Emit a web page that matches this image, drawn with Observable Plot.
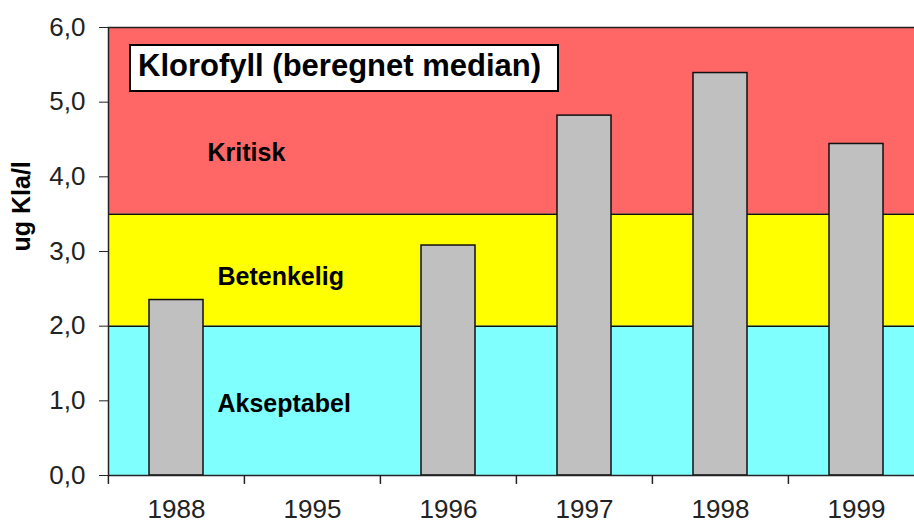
<!DOCTYPE html>
<html><head><meta charset="utf-8">
<script src="https://cdn.jsdelivr.net/npm/d3@7"></script>
<script src="https://cdn.jsdelivr.net/npm/@observablehq/plot@0.6"></script>
<style>
html,body{margin:0;padding:0;background:#fff;overflow:hidden;}
#wrap{position:relative;width:914px;height:523px;overflow:hidden;}
#title{position:absolute;left:129px;top:44px;width:430px;height:48px;box-sizing:border-box;border:2px solid #000;background:#fff;
 font:bold 31px "Liberation Sans",Arial,sans-serif;line-height:40px;padding-left:7px;color:#000;white-space:nowrap;}
</style>
</head><body>
<div id="wrap"><div id="chart"></div><div id="title"></div></div>
<script>
const years = ["1988", "1995", "1996", "1997", "1998", "1999"];
const values = [2.35, null, 3.08, 4.82, 5.39, 4.44];
const zoneLow = [0, 2, 3.5];
const zoneHigh = [2, 3.5, 6];
const zoneColors = ["#80FFFF", "#FFFF00", "#FF6666"];
const zoneLabels = ["Akseptabel", "Betenkelig", "Kritisk"];
const zoneLabelY = [0.96, 2.66, 4.32];
const yTicks = [0, 1, 2, 3, 4, 5, 6];
const yLabel = "ug Kla/l";
const titleText = "Klorofyll (beregnet median)";

document.getElementById("title").textContent = titleText;

const bars = years.map((y, i) => ({year: y, value: values[i]})).filter(d => d.value != null);
const zones = zoneLow.map((lo, i) => ({lo, hi: zoneHigh[i], color: zoneColors[i], label: zoneLabels[i], labelY: zoneLabelY[i]}));
const fmt = d => d.toFixed(1).replace(".", ",");
const sans = "'Liberation Sans',Arial,sans-serif";

const chart = Plot.plot({
  width: 914, height: 523,
  marginLeft: 108, marginRight: -11, marginTop: 27, marginBottom: 48,
  style: {fontFamily: sans, fontSize: "26px", color: "#222", background: "transparent", overflow: "hidden"},
  x: {domain: years, paddingInner: 0.6, paddingOuter: 0.3, label: null, tickSize: 0, tickPadding: 24},
  y: {domain: [0, 6], ticks: yTicks, tickFormat: fmt, label: null, tickSize: 9, tickPadding: 14},
  color: {type: "identity"},
  marks: [
    Plot.rect(zones, {y1: "lo", y2: "hi", fill: "color"}),
    Plot.ruleY(zoneLow.slice(1), {stroke: "#111", strokeWidth: 1.5}),
    Plot.barY(bars, {x: "year", y: "value", fill: "#C0C0C0", stroke: "#111", strokeWidth: 1.5}),
    Plot.frame({stroke: "#222", strokeWidth: 1.5}),
    Plot.ruleX(years, {x: d => d, dx: -68.1, y1: 0, y2: -0.12, stroke: "#222", strokeWidth: 1.5}),
    Plot.text(zones.filter(d => d.label !== "Kritisk"), {text: "label", y: "labelY", frameAnchor: "left", textAnchor: "start", dx: 109,
      fontWeight: "bold", fontSize: 25, fontFamily: sans, fill: "#000"}),
    Plot.text(zones.filter(d => d.label === "Kritisk"), {text: "label", y: "labelY", frameAnchor: "left", textAnchor: "start", dx: 99,
      fontWeight: "bold", fontSize: 25, fontFamily: sans, fill: "#000"}),
    Plot.text([yLabel], {frameAnchor: "left", dx: -87, rotate: -90, fontWeight: "bold", fontSize: 25,
      fontFamily: sans, fill: "#000"})
  ]
});
document.getElementById("chart").appendChild(chart);
</script>
</body></html>
